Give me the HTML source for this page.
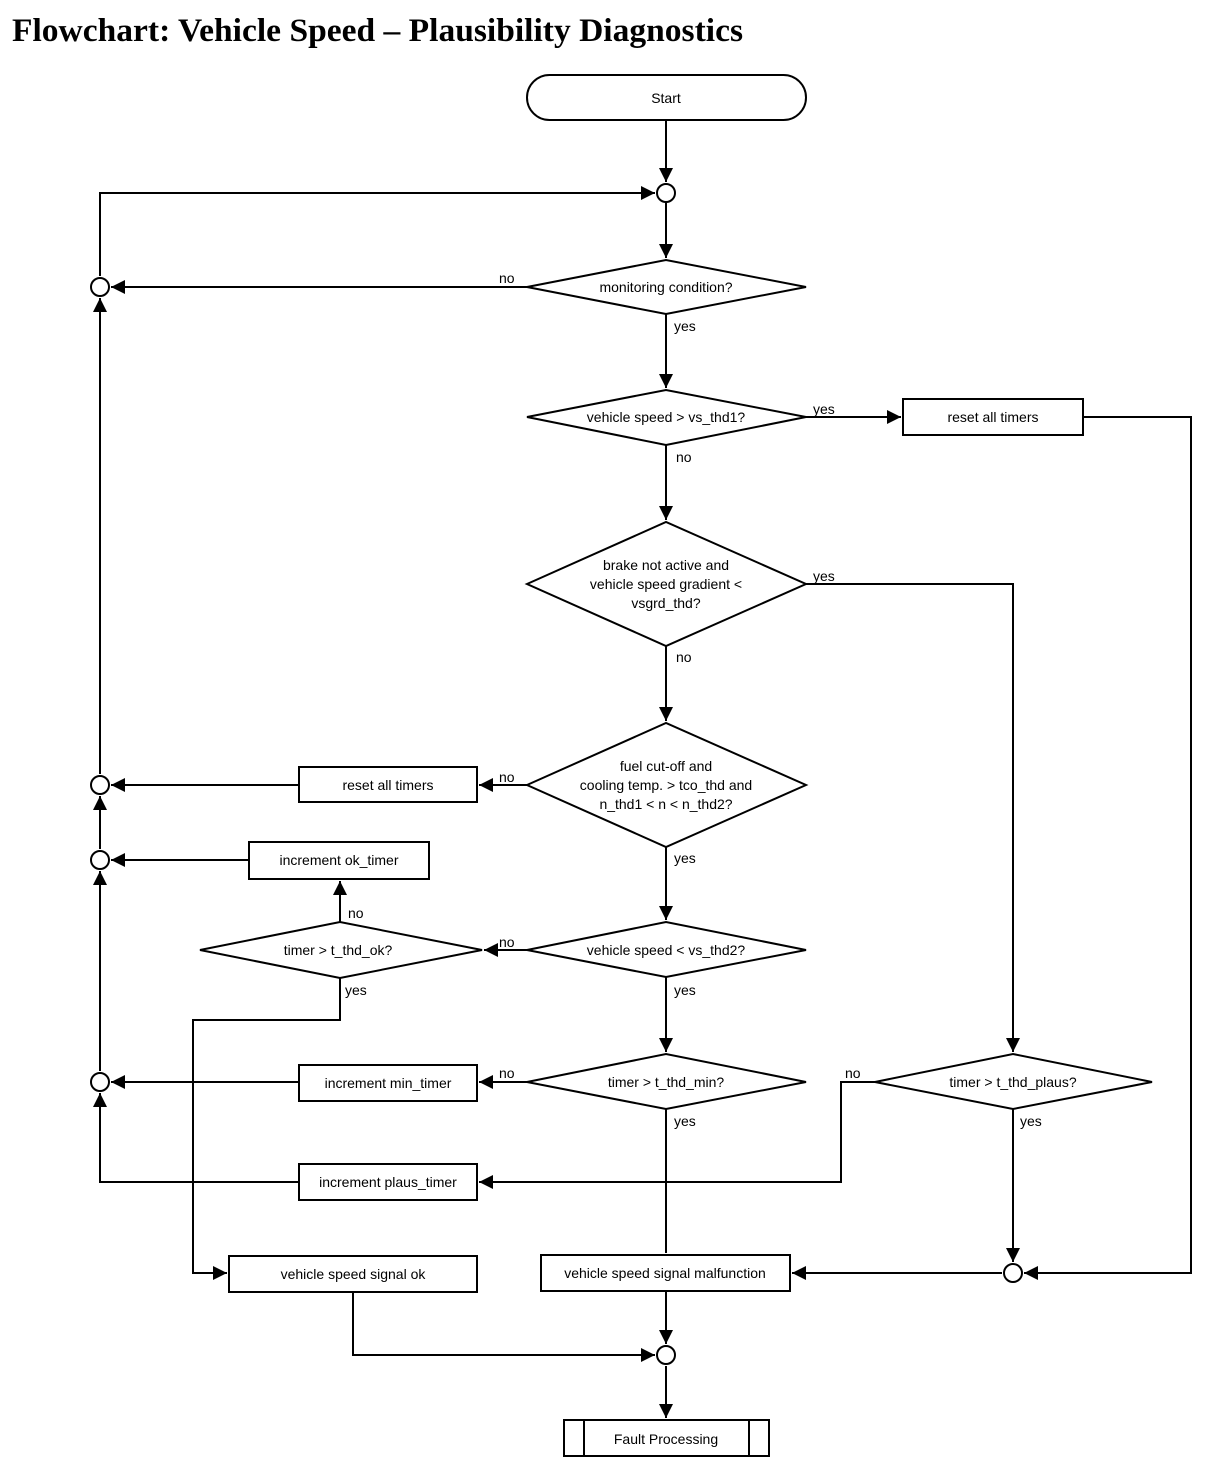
<!DOCTYPE html>
<html><head><meta charset="utf-8"><style>
body{margin:0;background:#fff;}
svg{display:block;}
text{font-family:"Liberation Sans",sans-serif;font-size:14px;fill:#000;}
.t{font-family:"Liberation Serif",serif;font-size:33px;font-weight:bold;}
</style></head><body>
<svg width="1216" height="1474" viewBox="0 0 1216 1474" xmlns="http://www.w3.org/2000/svg">
<defs>
<marker id="b" viewBox="0 0 10 10" refX="10" refY="5" markerWidth="14" markerHeight="14" markerUnits="userSpaceOnUse" orient="auto"><path d="M0,0L10,5L0,10z" fill="#000"/></marker></defs>
<text class="t" x="12" y="41" textLength="731" lengthAdjust="spacingAndGlyphs">Flowchart: Vehicle Speed – Plausibility Diagnostics</text>
<g fill="#fff" stroke="#000" stroke-width="2">
<rect x="527" y="75" width="279" height="45" rx="22.5"/>
<polygon points="527,287 666,260 806,287 666,314"/>
<polygon points="527,417 666,390 806,417 666,445"/>
<rect x="903" y="399" width="180" height="36"/>
<polygon points="527,584 666,522 806,584 666,646"/>
<polygon points="527,785 666,723 806,785 666,847"/>
<rect x="299" y="767" width="178" height="35"/>
<polygon points="527,950 666,922 806,950 666,977"/>
<polygon points="200,950 340,922 482,950 340,978"/>
<rect x="249" y="842" width="180" height="37"/>
<rect x="229" y="1256" width="248" height="36"/>
<polygon points="527,1082 666,1054 806,1082 666,1109"/>
<rect x="299" y="1065" width="178" height="36"/>
<rect x="541" y="1255" width="249" height="36"/>
<polygon points="875,1082 1013,1054 1152,1082 1013,1109"/>
<rect x="299" y="1164" width="178" height="36"/>
<rect x="564" y="1420" width="205" height="36"/>
<line x1="584" y1="1420" x2="584" y2="1456"/><line x1="749" y1="1420" x2="749" y2="1456"/>
</g>
<g fill="none" stroke="#000" stroke-width="2">
<path d="M666,120V182" marker-end="url(#b)"/>
<path d="M666,202V258" marker-end="url(#b)"/>
<path d="M527,287H111" marker-end="url(#b)"/>
<path d="M666,314V388" marker-end="url(#b)"/>
<path d="M806,417H901" marker-end="url(#b)"/>
<path d="M1083,417H1191V1273H1024" marker-end="url(#b)"/>
<path d="M666,445V520" marker-end="url(#b)"/>
<path d="M806,584H1013V1052" marker-end="url(#b)"/>
<path d="M666,646V721" marker-end="url(#b)"/>
<path d="M527,785H479" marker-end="url(#b)"/>
<path d="M299,785H111" marker-end="url(#b)"/>
<path d="M666,847V920" marker-end="url(#b)"/>
<path d="M527,950H484" marker-end="url(#b)"/>
<path d="M340,922V881" marker-end="url(#b)"/>
<path d="M249,860H111" marker-end="url(#b)"/>
<path d="M340,978V1020H193V1273H227" marker-end="url(#b)"/>
<path d="M353,1292V1355H655" marker-end="url(#b)"/>
<path d="M666,977V1052" marker-end="url(#b)"/>
<path d="M527,1082H479" marker-end="url(#b)"/>
<path d="M299,1082H111" marker-end="url(#b)"/>
<path d="M666,1109V1253"/>
<path d="M666,1291V1344" marker-end="url(#b)"/>
<path d="M666,1366V1418" marker-end="url(#b)"/>
<path d="M875,1082H841V1182H479" marker-end="url(#b)"/>
<path d="M299,1182H100V1093" marker-end="url(#b)"/>
<path d="M100,1071V871" marker-end="url(#b)"/>
<path d="M100,849V796" marker-end="url(#b)"/>
<path d="M100,774V298" marker-end="url(#b)"/>
<path d="M100,276V193H655" marker-end="url(#b)"/>
<path d="M1013,1109V1262" marker-end="url(#b)"/>
<path d="M1002,1273H792" marker-end="url(#b)"/>
</g>
<g fill="#fff" stroke="#000" stroke-width="2">
<circle cx="666" cy="193" r="9"/><circle cx="100" cy="287" r="9"/><circle cx="100" cy="785" r="9"/>
<circle cx="100" cy="860" r="9"/><circle cx="100" cy="1082" r="9"/><circle cx="1013" cy="1273" r="9"/>
<circle cx="666" cy="1355" r="9"/>
</g>
<g text-anchor="middle">
<text x="666" y="103">Start</text>
<text x="666" y="292">monitoring condition?</text>
<text x="666" y="422">vehicle speed &gt; vs_thd1?</text>
<text x="993" y="422">reset all timers</text>
<text x="666" y="570">brake not active and</text>
<text x="666" y="589">vehicle speed gradient &lt;</text>
<text x="666" y="608">vsgrd_thd?</text>
<text x="666" y="771">fuel cut-off and</text>
<text x="666" y="790">cooling temp. &gt; tco_thd and</text>
<text x="666" y="809">n_thd1 &lt; n &lt; n_thd2?</text>
<text x="388" y="790">reset all timers</text>
<text x="666" y="955">vehicle speed &lt; vs_thd2?</text>
<text x="338" y="955">timer &gt; t_thd_ok?</text>
<text x="339" y="865">increment ok_timer</text>
<text x="353" y="1279">vehicle speed signal ok</text>
<text x="666" y="1087">timer &gt; t_thd_min?</text>
<text x="388" y="1088">increment min_timer</text>
<text x="665" y="1278">vehicle speed signal malfunction</text>
<text x="1013" y="1087">timer &gt; t_thd_plaus?</text>
<text x="388" y="1187">increment plaus_timer</text>
<text x="666" y="1444">Fault Processing</text>
</g>
<text x="499" y="283">no</text><text x="674" y="331">yes</text>
<text x="813" y="414">yes</text><text x="676" y="462">no</text>
<text x="813" y="581">yes</text><text x="676" y="662">no</text>
<text x="499" y="782">no</text><text x="674" y="863">yes</text>
<text x="499" y="947">no</text><text x="348" y="918">no</text>
<text x="345" y="995">yes</text><text x="674" y="995">yes</text>
<text x="499" y="1078">no</text><text x="674" y="1126">yes</text>
<text x="845" y="1078">no</text><text x="1020" y="1126">yes</text>
</svg>
</body></html>
